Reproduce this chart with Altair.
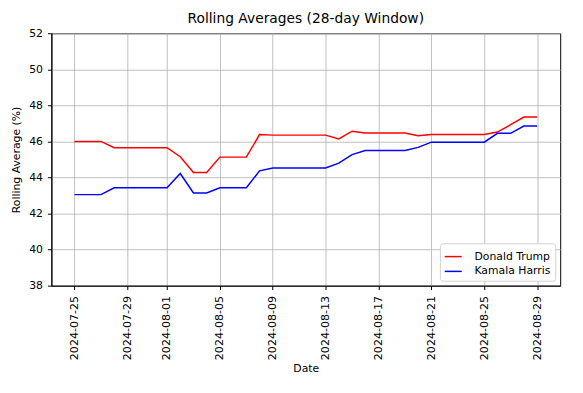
import altair as alt
import pandas as pd

dates = pd.date_range("2024-07-25", "2024-08-29", freq="D").strftime("%Y-%m-%d").tolist()
trump = [46.0, 46.0, 46.0, 45.65, 45.65, 45.65, 45.65, 45.65, 45.15, 44.28, 44.28,
         45.13, 45.13, 45.13, 46.38, 46.35, 46.35, 46.35, 46.35, 46.35, 46.14, 46.57,
         46.47, 46.47, 46.47, 46.47, 46.32, 46.38, 46.38, 46.38, 46.38, 46.38, 46.52,
         46.93, 47.35, 47.35]
harris = [43.05, 43.05, 43.05, 43.43, 43.43, 43.43, 43.43, 43.43, 44.22, 43.14, 43.14,
          43.43, 43.43, 43.43, 44.37, 44.53, 44.53, 44.53, 44.53, 44.53, 44.8, 45.27,
          45.5, 45.5, 45.5, 45.5, 45.67, 45.96, 45.96, 45.96, 45.96, 45.96, 46.45,
          46.45, 46.85, 46.85]
series = ["Donald Trump", "Kamala Harris"]
colors = ["#ff0000", "#0000ff"]
tick_dates = ["2024-07-25", "2024-07-29", "2024-08-01", "2024-08-05", "2024-08-09",
              "2024-08-13", "2024-08-17", "2024-08-21", "2024-08-25", "2024-08-29"]

rows = []
for d, t, h in zip(dates, trump, harris):
    rows.append({"Date": d, "Candidate": series[0], "Value": t})
    rows.append({"Date": d, "Candidate": series[1], "Value": h})
df = pd.DataFrame(rows)


def dt(s, hours=0):
    y, m, d = (int(p) for p in s.split("-"))
    return alt.DateTime(year=y, month=m, date=d, hours=hours, utc=True)


font = "DejaVu Sans"

chart = alt.Chart(df).mark_line(strokeWidth=1.5).encode(
    x=alt.X(
        "Date:T",
        title="Date",
        scale=alt.Scale(type="utc", domain=[dt("2024-07-23", 6), dt("2024-08-30", 18)], nice=False),
        axis=alt.Axis(
            values=[dt(s) for s in tick_dates],
            labelExpr="utcFormat(datum.value, '%Y-%m-%d')",
            labelAngle=270,
            labelAlign="right",
            labelBaseline="middle",
            labelPadding=6,
            labelFontSize=11.2,
            titlePadding=3,
        ),
    ),
    y=alt.Y(
        "Value:Q",
        title="Rolling Average (%)",
        scale=alt.Scale(domain=[38, 52], nice=False, zero=False),
        axis=alt.Axis(values=list(range(38, 53, 2)), labelPadding=5, titlePadding=7),
    ),
    color=alt.Color(
        "Candidate:N",
        scale=alt.Scale(domain=series, range=colors),
        sort=series,
        legend=alt.Legend(
            title=None,
            orient="bottom-right",
            symbolType="stroke",
            symbolStrokeWidth=1.5,
            symbolSize=300,
            labelFontSize=11,
            labelFont=font,
            fillColor="white",
            strokeColor="#d0d0d0",
            padding=4,
            cornerRadius=3,
            offset=5,
            rowPadding=0,
            labelOffset=12,
        ),
    ),
).properties(
    width=516,
    height=256,
    title=alt.TitleParams("Rolling Averages (28-day Window)", fontSize=14, font=font,
                          fontWeight="normal", offset=1, color="black"),
    autosize=alt.AutoSizeParams(type="none"),
    padding={"left": 44, "top": 23, "right": 15, "bottom": 90},
).configure_view(
    stroke="black", strokeWidth=1
).configure_axis(
    grid=True,
    gridColor="#b0b0b0",
    gridWidth=0.8,
    domainColor="black",
    domainWidth=1,
    tickColor="black",
    tickSize=4,
    labelFont=font,
    labelFontSize=11,
    labelColor="black",
    titleFont=font,
    titleFontSize=11,
    titleFontWeight="normal",
    titleColor="black",
)

chart.save("out.html", embed_options={"renderer": "svg", "actions": False})
